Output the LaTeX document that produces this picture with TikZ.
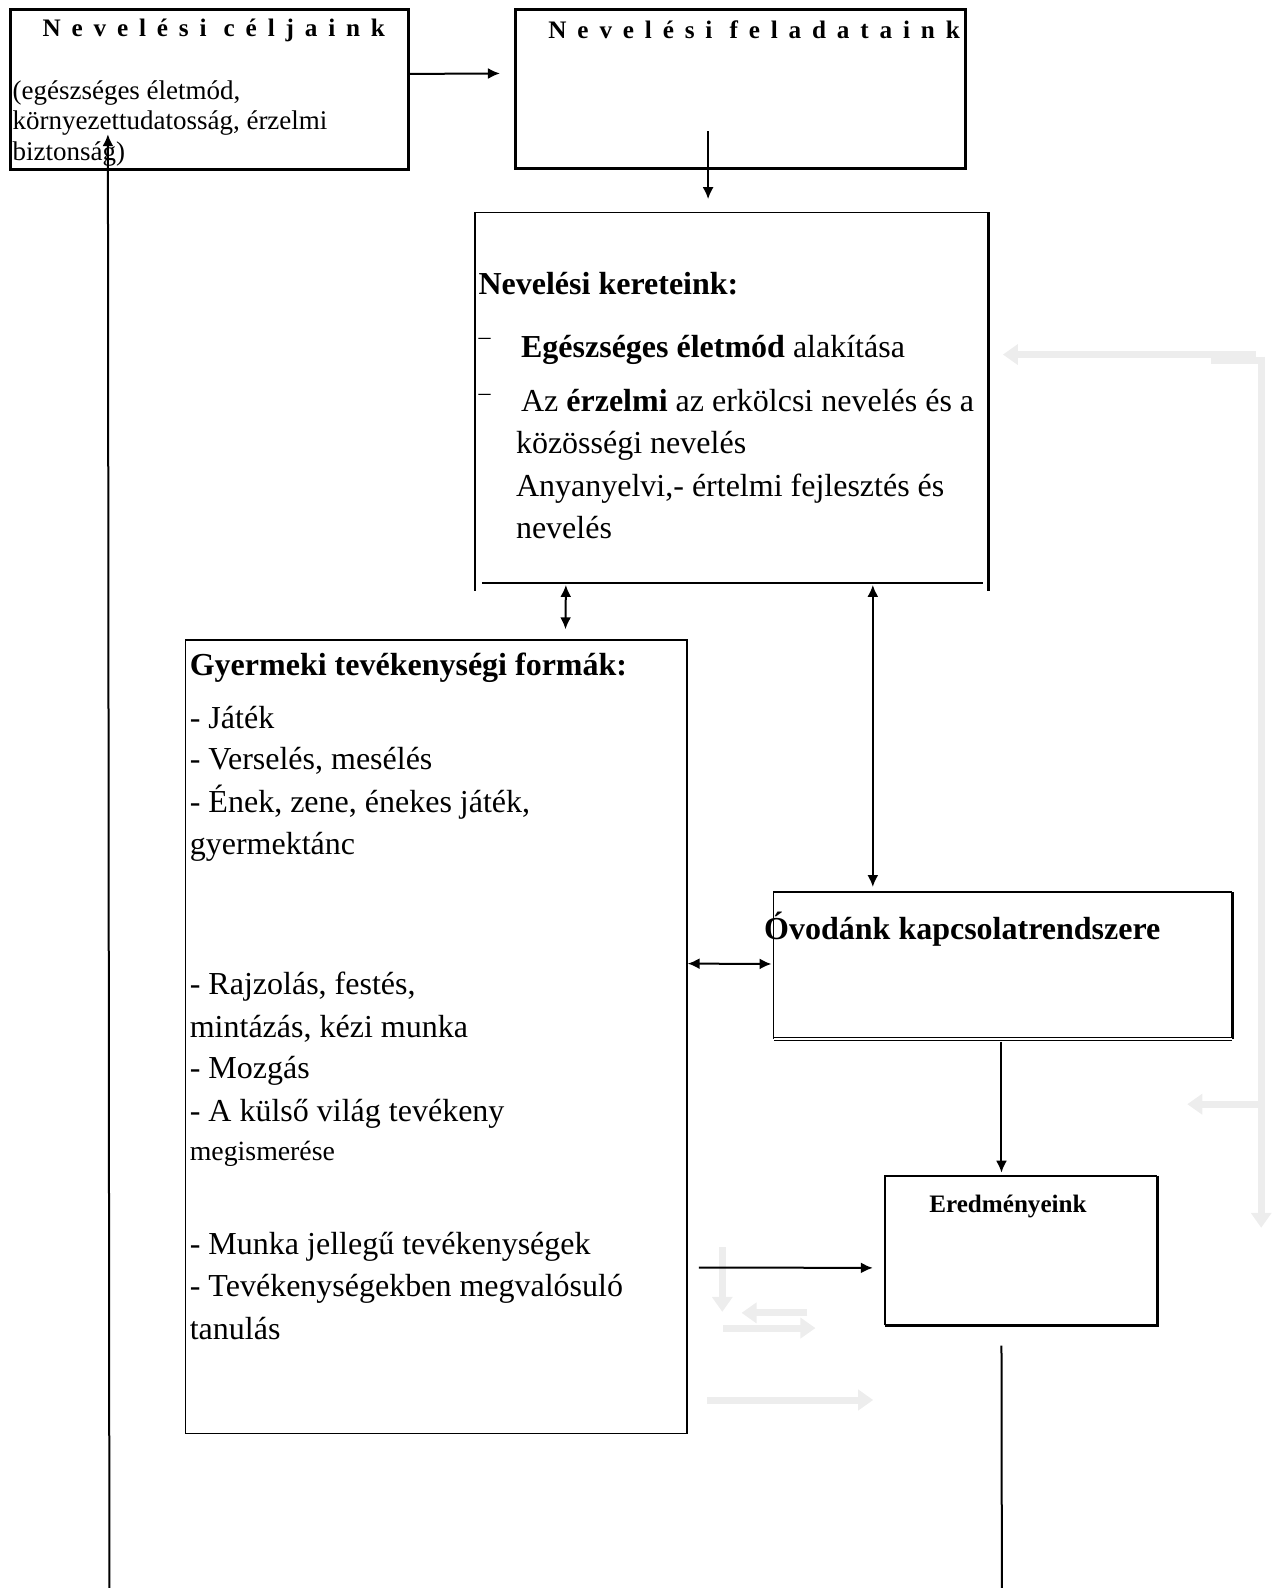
\documentclass[tikz,border=0pt]{standalone}
\usepackage{fontspec}
\setmainfont{Liberation Serif}
\usetikzlibrary{arrows.meta,fit,calc}
\begin{document}
\begin{tikzpicture}[x=0.5065pt,y=-0.5065pt,
  thickbox/.style={draw, line width=1.5pt, inner sep=0pt},
  thinbox/.style={draw, line width=0.8pt, inner sep=0pt},
  frame/.style={inner sep=0pt},
  arr/.style={line width=1pt, -{Latex[length=6pt,width=5.5pt]}},
  darr/.style={line width=1pt, {Latex[length=6pt,width=5.5pt]}-{Latex[length=6pt,width=5.5pt]}},
  plain/.style={line width=1pt},
  ghost/.style={draw=black!7, line width=3.5pt, -{Triangle[length=7.5pt,width=10pt]}},
  ghostline/.style={draw=black!7, line width=3.5pt},
  txt/.style={anchor=base west, inner sep=0pt, font=\fontsize{16}{19}\selectfont},
  btxt/.style={anchor=base west, inner sep=0pt, font=\fontsize{16}{19}\selectfont\bfseries},
  small/.style={anchor=base west, inner sep=0pt, font=\fontsize{13.5}{16}\selectfont},
  dashmark/.style={anchor=base west, inner sep=0pt, font=\fontsize{12}{14}\selectfont},
  spaced/.style={inner sep=0pt, font=\fontsize{12.6}{15}\selectfont\bfseries\addfontfeature{LetterSpace=43}},
]
\useasboundingbox (0,0) rectangle (1259.7,1567.6);

% faint background arrows
\draw[ghost] (1240,350) -- (990,350);
\draw[ghostline] (1195,356) -- (1245,356);
\draw[ghost] (1245,352) -- (1245,1212);
\draw[ghost] (1245,1090) -- (1172,1090);
\draw[ghost] (713,1231) -- (713,1295);
\draw[ghost] (797,1296) -- (732,1296);
\draw[ghost] (714,1311) -- (805,1311);
\draw[ghost] (698,1382) -- (862,1382);

% boxes
\node[thickbox, fit={(10,9) (403,167)}] (cel) {};
\node[thickbox, fit={(509,9) (953,166)}] (fel) {};
\node[frame, fit={(469,210) (975,583)}] (ker) {};
\node[thinbox, fit={(183,632) (678,1415)}] (gyer) {};
\node[frame, fit={(764,881) (1216,1025)}] (ovo) {};
\node[frame, fit={(874,1161) (1142,1308)}] (ered) {};

% borders of ker
\draw[line width=0.8pt] (ker.north west) -- (ker.north east);
\draw[line width=0.8pt] (ker.north west) -- (ker.south west);
\draw[line width=1.5pt] (ker.north east) -- (ker.south east);
\draw[line width=0.8pt] ($(ker.south west)+(7,-8)$) -- ($(ker.south east)+(-5,-8)$);

% borders of ovo
\draw[line width=0.8pt] (ovo.south west) -- (ovo.north west) -- (ovo.north east);
\draw[line width=1.3pt] (ovo.north east) -- (ovo.south east);
\draw[double, double distance=0.8pt, line width=0.55pt] (ovo.south west) -- (ovo.south east);

% borders of ered
\draw[line width=0.8pt] (ered.south west) -- (ered.north west) -- (ered.north east);
\draw[line width=1.5pt] (ered.north east) -- (ered.south east) -- (ered.south west);

% free ends
\coordinate (botL) at (108,1567.6);
\coordinate (botR) at (989,1567.6);

% connectors
\draw[arr] ($(cel.east)+(0,-15)$) -- ($(fel.west)+(-14,-15)$);
\draw[arr] ($(fel.south)+(-32,-38)$) -- ($(ker.north)+(-23,-13)$);
\draw[darr] ($(ker.south west)+(90,-6)$) -- ($(gyer.north west)+(376,-10)$);
\draw[darr] ($(ker.south west)+(393,-6)$) -- ($(ovo.north west)+(98,-5)$);
\draw[darr] ($(gyer.north east)+(0,320)$) -- ($(ovo.north west)+(-2,71)$);
\draw[arr] ($(ovo.south west)+(225,3)$) -- ($(ered.north west)+(115,-3)$);
\draw[arr] ($(gyer.north east)+(11,620)$) -- ($(ered.north west)+(-12,91)$);
\draw[plain] ($(ered.south west)+(115,20)$) -- (botR);
\draw[arr] (botL) -- ($(cel.south west)+(98,-36)$);

% texts: Nevelesi celjaink
\node[spaced, anchor=base] (celT) at (211,36) {Nevelési céljaink};
\node[small] (cel1) at (12,98) {(egészséges életmód,};
\node[small] (cel2) at (12,128) {környezettudatosság, érzelmi};
\node[small] (cel3) at (12,158) {biztonság)};

% Nevelesi feladataink
\node[spaced, anchor=base west] (felT) at (541,38) {Nevelési feladataink};

% Nevelesi kereteink
\node[btxt] (kerT) at (472,291) {Nevelési kereteink:};
\node[dashmark] (d1) at (472,340) {–};
\node[txt] (ker1) at (514,353) {{\bfseries Egészséges életmód} alakítása};
\node[dashmark] (d2) at (472,395) {–};
\node[txt] (ker2) at (514,406) {Az {\bfseries érzelmi} az erkölcsi nevelés és a};
\node[txt] (ker3) at (509,448) {közösségi nevelés};
\node[txt] (ker4) at (509,490) {Anyanyelvi,- értelmi fejlesztés és};
\node[txt] (ker5) at (509,532) {nevelés};

% Gyermeki tevekenysegi formak
\node[btxt] (gyT) at (187,667) {Gyermeki tevékenységi formák:};
\node[txt] (g1) at (187,719) {- Játék};
\node[txt] (g2) at (187,760) {- Verselés, mesélés};
\node[txt] (g3) at (187,802) {- Ének, zene, énekes játék,};
\node[txt] (g4) at (187,844) {gyermektánc};
\node[txt] (g5) at (187,982) {- Rajzolás, festés,};
\node[txt] (g6) at (187,1024) {mintázás, kézi munka};
\node[txt] (g7) at (187,1065) {- Mozgás};
\node[txt] (g8) at (187,1107) {- A külső világ tevékeny};
\node[anchor=base west, inner sep=0pt, font=\fontsize{13.9}{16}\selectfont] (g9) at (187,1146) {megismerése};
\node[txt] (g10) at (187,1238) {- Munka jellegű tevékenységek};
\node[txt] (g11) at (187,1280) {- Tevékenységekben megvalósuló};
\node[txt] (g12) at (187,1322) {tanulás};

% Ovodank
\node[anchor=base west, inner sep=0pt, font=\fontsize{16}{19}\selectfont\bfseries] (ovT) at (754,927) {Óvodánk kapcsolatrendszere};

% Eredmenyeink
\node[anchor=base west, inner sep=0pt, font=\fontsize{12.56}{15}\selectfont\bfseries] (erT) at (917,1197) {Eredményeink};
\end{tikzpicture}
\end{document}
